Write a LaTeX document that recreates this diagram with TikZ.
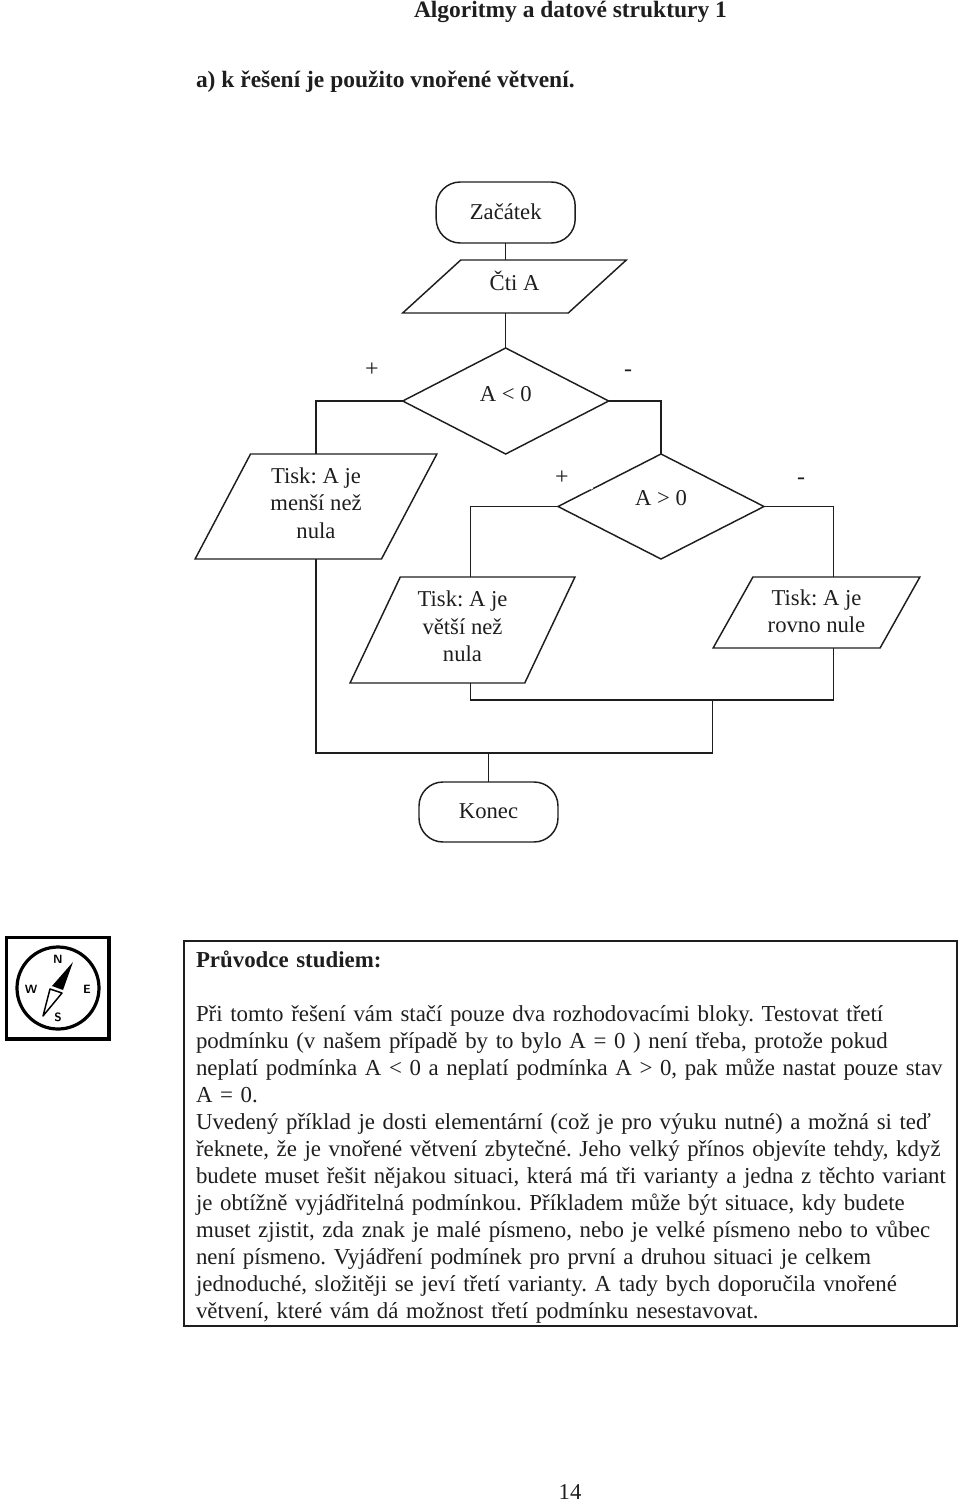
\documentclass[tikz,border=0pt]{standalone}
\usepackage{fontspec}
\setmainfont{Liberation Serif}
\usetikzlibrary{shapes.geometric}
\newdimen\pxunit \pxunit=0.75pt
\newcommand{\liftx}[2]{\begin{tabular}{@{}c@{}}#2\\[#1\pxunit]\end{tabular}}
\definecolor{ink}{HTML}{1E1E1E}
\frenchspacing
\tikzset{
  every node/.style={text=ink,inner sep=0pt,outer sep=0pt,font=\fontsize{17}{20.6}\selectfont},
  lin/.style={draw=ink,line width=1.1pt},
  term/.style n args={2}{lin,rectangle,rounded corners=18pt,minimum width=#1*0.75pt,minimum height=#2*0.75pt},
  para/.style n args={3}{lin,trapezium,trapezium stretches=true,trapezium left angle=#3,trapezium right angle=180-#3,minimum width=#1*0.75pt,minimum height=#2*0.75pt},
  dec/.style n args={3}{lin,diamond,aspect=#3,minimum width=#1*0.75pt,minimum height=#2*0.75pt},
  sign/.style={font=\fontsize{18}{20}\selectfont},
  head/.style={font=\fontsize{17.6}{20}\selectfont\bfseries,anchor=west},
  compassline/.style={draw=black,line width=2.4pt},
  compassletter/.style={font=\fontsize{9}{9}\selectfont\bfseries\sffamily,text=black},
  conn/.style={draw=ink,line width=1.1pt,line join=miter}
}
\begin{document}
\begin{tikzpicture}[x=0.75pt,y=-0.75pt]
\useasboundingbox (0,0) rectangle (960,1502);
\node[head] (title) at (414,12) {Algoritmy a datové struktury 1};
\node[head] (intro) at (196,82) {a) k řešení je použito vnořené větvení.};

\node[term={139}{61}] (start) at (505.7,212.5) {\liftx{-4}{Začátek}};
\node[para={225}{53}{49.7}] (read) at (514.5,286.5) {\liftx{4}{Čti A}};
\node[dec={206}{106}{1.943}] (d1) at (505.7,401) {\liftx{10}{A < 0}};
\node[para={242}{105}{65.4}] (p1) at (316,506.5) {\liftx{2}{Tisk: A je\\menší než\\nula}};
\node[dec={206}{105}{1.962}] (d2) at (661,506.5) {\liftx{12}{A > 0}};
\draw[white,line width=1.4pt] (590.4,489) -- (592.6,487.7);
\node[para={225}{106}{67}] (p2) at (462.5,630) {\liftx{3}{Tisk: A je\\větší než\\nula}};
\node[para={207}{71}{60}] (p3) at (816.5,612.5) {\liftx{-2}{Tisk: A je\\rovno nule}};
\node[term={139}{60}] (end) at (488.5,812) {\liftx{-2}{Konec}};

\coordinate (c1) at (316,401);
\coordinate (c2) at (661,401);
\coordinate (c3) at (470.5,506.5);
\coordinate (c4) at (833.5,506.5);
\coordinate (m1) at (470.5,700);
\coordinate (m2) at (833.5,700);
\coordinate (m3) at (712.5,700);
\coordinate (m4) at (712.5,753);
\coordinate (m5) at (316,753);
\coordinate (m6) at (488.5,753);

\draw[conn] (start.south) -- (start.south |- read.north);
\draw[conn] (start.south |- read.south) -- (d1.north);
\draw[conn] (d1.west) -- (c1) -- (c1 |- p1.north);
\draw[conn] (d1.east) -- (c2) -- (d2.north);
\draw[conn] (d2.west) -- (c3) -- (c3 |- p2.north);
\draw[conn] (d2.east) -- (c4) -- (c4 |- p3.north);
\draw[conn] (c3 |- p2.south) -- (m1) -- (m2) -- (c4 |- p3.south);
\draw[conn] (m3) -- (m4) -- (m5) -- (c1 |- p1.south);
\draw[conn] (m6) -- (end.north);

\node[sign] (s1) at (372,370) {+};
\node[sign] (s2) at (628,373) {-};
\node[sign] (s3) at (562,478) {+};
\node[sign] (s4) at (801,481) {-};

% compass
\draw[compassline] (6.5,937.5) rectangle (109,1039);
\draw[compassline] (58,988) circle[radius=41];
\node[compassletter] (cn) at (58,959) {N};
\node[compassletter] (cw) at (31,989) {W};
\node[compassletter] (ce) at (87,989) {E};
\node[compassletter] (cs) at (58,1017) {S};
\fill[black] (73,962) -- (52,986) -- (63,990) -- cycle;
\draw[black,line width=1.1pt,line join=round] (43,1016) -- (50,989) -- (62,993) -- cycle;

\node[draw=ink,line width=0.9pt,minimum width=773*0.75pt,minimum height=385*0.75pt,text width=749*0.75pt,align=left,
  font=\fontsize{17.15}{20.25}\selectfont] (guide) at (570.5,1133.5) {%
\rule{0pt}{18pt}{\bfseries Průvodce studiem:}\\
\mbox{}\\
Při tomto řešení vám stačí pouze dva rozhodovacími bloky. Testovat třetí\\
podmínku (v našem případě by to bylo A = 0 ) není třeba, protože pokud\\
neplatí podmínka A < 0 a neplatí podmínka A > 0, pak může nastat pouze stav\\
A = 0.\\
Uvedený příklad je dosti elementární (což je pro výuku nutné) a možná si teď\\
řeknete, že je vnořené větvení zbytečné. Jeho velký přínos objevíte tehdy, když\\
\mbox{budete muset řešit nějakou situaci, která má tři varianty a jedna z těchto variant}\\
je obtížně vyjádřitelná podmínkou. Příkladem může být situace, kdy budete\\
muset zjistit, zda znak je malé písmeno, nebo je velké písmeno nebo to vůbec\\
není písmeno. Vyjádření podmínek pro první a druhou situaci je celkem\\
jednoduché, složitěji se jeví třetí varianty. A tady bych doporučila vnořené\\
větvení, které vám dá možnost třetí podmínku nesestavovat.};

\node[sign,font=\fontsize{17}{20}\selectfont] (page) at (570,1492) {14};
\end{tikzpicture}
\end{document}
